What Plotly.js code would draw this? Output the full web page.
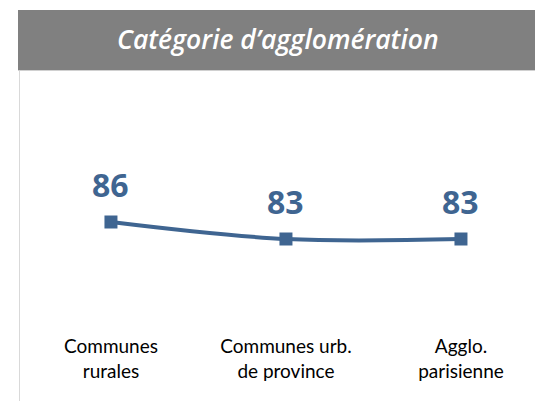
<!DOCTYPE html>
<html>
<head>
<meta charset="utf-8">
<script src="https://cdn.plot.ly/plotly-3.0.1.min.js"></script>
<style>html,body{margin:0;padding:0;background:#fff;}#chart{width:535px;height:401px;}</style>
</head>
<body>
<div id="chart"></div>
<script>
var categories = ["Communes<br>rurales", "Communes urb.<br>de province", "Agglo.<br>parisienne"];
var values = [86, 83, 83];
var valueLabels = ["86", "83", "83"];
var chartTitle = "Catégorie d’agglomération";

var blue = "#3F6591";
var PH = 330; // plot area height in px (paper coords span this)
function py(px) { return 1 - px / PH; }

var trace = {
  x: [0, 1, 2],
  y: values,
  type: "scatter",
  mode: "lines+markers",
  line: {color: blue, width: 4, shape: "spline", smoothing: 1},
  marker: {symbol: "square", size: 13, color: blue},
  hoverinfo: "none",
  cliponaxis: false
};

var annotations = values.map(function (v, i) {
  return {
    x: i, y: v, xref: "x", yref: "y",
    text: "<b>" + valueLabels[i] + "</b>",
    showarrow: false,
    yshift: 38,
    font: {family: "Open Sans", size: 32, color: blue}
  };
});
annotations.push({
  x: 0.519, y: py(39), xref: "paper", yref: "paper",
  xanchor: "center", yanchor: "middle",
  text: chartTitle, showarrow: false,
  font: {family: "Open Sans", size: 26.5, color: "#ffffff", style: "italic", weight: 600}
});

var layout = {
  width: 535, height: 401,
  margin: {l: 0, r: 0, t: 0, b: 71, pad: 0},
  paper_bgcolor: "#ffffff",
  plot_bgcolor: "#ffffff",
  showlegend: false,
  xaxis: {
    range: [-0.634, 2.423],
    tickvals: [0, 1, 2],
    ticktext: categories,
    showgrid: false, zeroline: false, showline: false, ticks: "",
    ticklabelstandoff: 3,
    tickfont: {family: "Lato", size: 19, color: "#000000"},
    fixedrange: true
  },
  yaxis: {
    range: [66.94, 125.18],
    visible: false, fixedrange: true
  },
  shapes: [
    {type: "rect", xref: "paper", yref: "paper", x0: 18/535, x1: 1, y0: py(10), y1: py(70),
     fillcolor: "#808080", line: {width: 0}, layer: "below"},
    {type: "line", xref: "paper", yref: "paper", x0: 18/535, x1: 1, y0: py(70.5), y1: py(70.5),
     line: {color: "#d0d0d0", width: 1}},
    {type: "line", xref: "paper", yref: "paper", x0: 19.5/535, x1: 19.5/535, y0: py(71), y1: py(401),
     line: {color: "#d9d9d9", width: 1}}
  ],
  annotations: annotations
};

Plotly.newPlot("chart", [trace], layout, {staticPlot: true, displayModeBar: false});
</script>
</body>
</html>
